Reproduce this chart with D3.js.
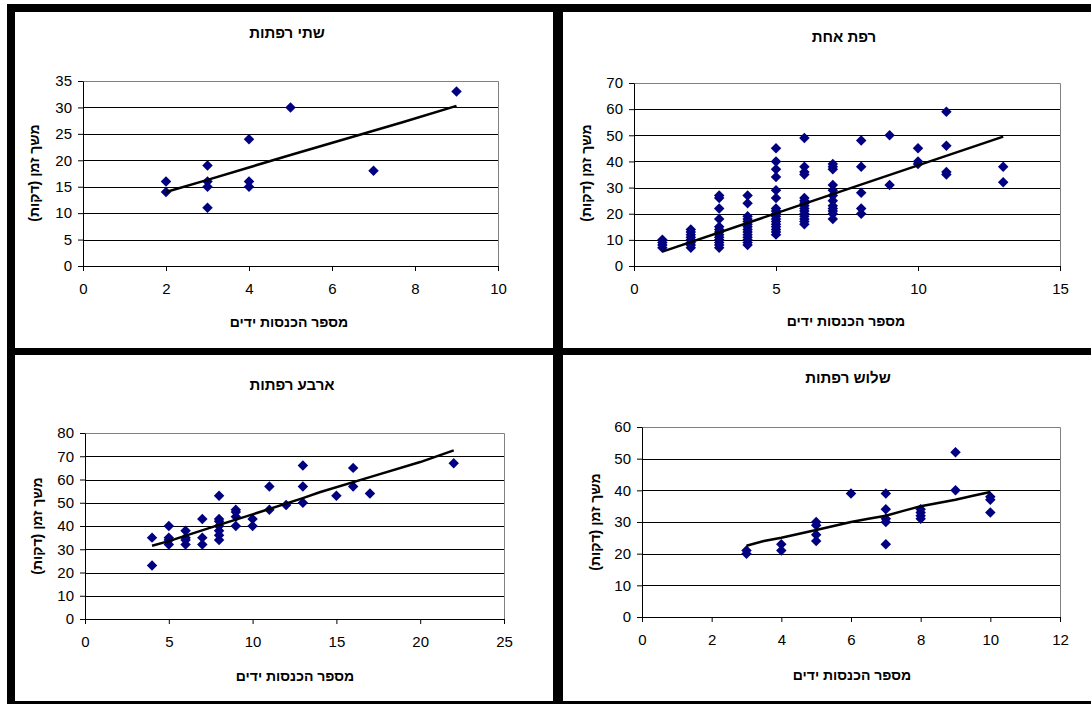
<!DOCTYPE html>
<html>
<head>
<meta charset="utf-8">
<script src="https://cdn.jsdelivr.net/npm/d3@7"></script>
<style>
  body { margin: 0; background: #fff; }
  svg { display: block; font-family: "Liberation Sans", Arial, sans-serif; }
</style>
</head>
<body>
<div id="chart"></div>
<script>
// data: [x, [y values at that x]]
var twoBarns = [[2, [16, 14]], [3, [19, 16, 15, 11]], [4, [24, 16, 15]], [5, [30]], [7, [18]], [9, [33]]];
var twoTrend = [[2, 14], [3, 16.3], [5, 21], [7.7, 27.2], [9, 30.3]];

var oneBarn = [
  [1, [10, 9, 8, 7]],
  [2, [14, 13, 12, 11, 10, 9, 8, 7]],
  [3, [27, 26, 22, 18, 15, 14, 13, 12, 11, 10, 9, 8, 7]],
  [4, [27, 24, 19, 18, 17, 16, 15, 14, 13, 12, 11, 10, 9, 8]],
  [5, [45, 40, 37, 34, 29, 26, 22, 21, 20, 19, 18, 17, 16, 15, 14, 13, 12]],
  [6, [49, 38, 36, 35, 26, 25, 24, 23, 22, 21, 20, 19, 18, 17, 16]],
  [7, [39, 38, 37, 31, 29, 27, 25, 23, 22, 21, 20, 18]],
  [8, [48, 38, 28, 22, 20]],
  [9, [50, 31]],
  [10, [45, 40, 39]],
  [11, [59, 46, 36, 35]],
  [13, [38, 32]]
];
var oneTrend = [[1, 5.5], [13, 49.5]];

var fourBarns = [[4, [35, 23]], [5, [40, 35, 34, 32]], [6, [38, 35, 34, 32]], [7, [43, 35, 32]],
  [8, [53, 43, 42, 40, 38, 36, 34]], [9, [47, 46, 44, 40]], [10, [43, 40]], [11, [57, 47]], [12, [49]],
  [13, [66, 57, 50]], [15, [53]], [16, [65, 57]], [17, [54]], [22, [67]]];
var fourTrend = [[4, 31.5], [5, 33.5], [8, 40.5], [10, 45], [13, 52], [14, 54.5], [17, 61], [20, 67.5], [22, 72.5]];

var threeBarns = [[3, [21, 20]], [4, [23, 21]], [5, [30, 29, 26, 24]], [6, [39]], [7, [39, 34, 31, 30, 23]],
  [8, [34, 33, 32, 31]], [9, [52, 40]], [10, [38, 37, 33]]];
var threeTrend = [[3, 22.5], [3.5, 24], [4, 25], [5, 27.5], [6, 30], [6.5, 31], [7, 32], [7.5, 33.5], [8, 35], [9, 37], [9.5, 38.3], [10, 39.5]];

var titles = ["שתי רפתות", "רפת אחת", "ארבע רפתות", "שלוש רפתות"];
var xTitle = "מספר הכנסות ידים";
var yTitle = "משך זמן (דקות)";

// layout of the four charts
var panels = [
  {data: twoBarns, trend: twoTrend, title: titles[0], xMax: 10, xStep: 2, yMax: 35, yStep: 5,
   l: 83, r: 498, t: 81, b: 266, tx: 287, ty: 32, xlx: 289, xly: 322, ylx: 34, yly: 173},
  {data: oneBarn, trend: oneTrend, title: titles[1], xMax: 15, xStep: 5, yMax: 70, yStep: 10,
   l: 634, r: 1060, t: 83, b: 266, tx: 844, ty: 36, xlx: 846, xly: 321, ylx: 586, yly: 173},
  {data: fourBarns, trend: fourTrend, title: titles[2], xMax: 25, xStep: 5, yMax: 80, yStep: 10,
   l: 85, r: 504, t: 433, b: 619, tx: 292, ty: 384, xlx: 295, xly: 676, ylx: 37, yly: 526},
  {data: threeBarns, trend: threeTrend, title: titles[3], xMax: 12, xStep: 2, yMax: 60, yStep: 10,
   l: 642, r: 1060, t: 427, b: 617, tx: 848, ty: 377, xlx: 852, xly: 675, ylx: 595, yly: 522}
];

var W = 1091, H = 704;
var svg = d3.select("#chart").append("svg").attr("width", W).attr("height", H);
svg.append("rect").attr("width", W).attr("height", H).attr("fill", "#fff");

var diamond = d3.symbol().type(d3.symbolDiamond2).size(70);
var line = d3.line();

panels.forEach(function(p) {
  var x = d3.scaleLinear().domain([0, p.xMax]).range([p.l, p.r]);
  var y = d3.scaleLinear().domain([0, p.yMax]).range([p.b, p.t]);
  var g = svg.append("g");

  // gridlines
  g.selectAll(".grid").data(d3.range(p.yStep, p.yMax, p.yStep)).enter().append("line")
    .attr("x1", p.l).attr("x2", p.r)
    .attr("y1", function(d) { return Math.round(y(d)) + 0.5; })
    .attr("y2", function(d) { return Math.round(y(d)) + 0.5; })
    .attr("stroke", "#000").attr("stroke-width", 1);

  // plot area frame (top and right gray)
  g.append("path")
    .attr("d", "M" + p.l + "," + (Math.round(p.t) + 0.5) + "H" + (Math.round(p.r) + 0.5) + "V" + p.b)
    .attr("fill", "none").attr("stroke", "#808080");

  var xAxis = g.append("g").attr("transform", "translate(0," + Math.round(p.b) + ")")
    .call(d3.axisBottom(x).tickValues(d3.range(0, p.xMax + 0.001, p.xStep)).tickSize(5).tickPadding(12).tickSizeOuter(0));
  var yAxis = g.append("g").attr("transform", "translate(" + Math.round(p.l) + ",0)")
    .call(d3.axisLeft(y).tickValues(d3.range(0, p.yMax + 0.001, p.yStep)).tickSize(5).tickPadding(6).tickSizeOuter(0));
  [xAxis, yAxis].forEach(function(a) {
    a.selectAll("text").style("font-size", "15px").attr("fill", "#000")
      .style("font-family", "'Liberation Sans', Arial, sans-serif");
    a.selectAll("line,path").attr("stroke", "#000");
  });

  // points
  var pts = [];
  p.data.forEach(function(c) { c[1].forEach(function(v) { pts.push([c[0], v]); }); });
  g.selectAll(".pt").data(pts).enter().append("path")
    .attr("d", diamond)
    .attr("transform", function(d) { return "translate(" + x(d[0]) + "," + y(d[1]) + ")"; })
    .attr("fill", "#000080");

  // trend line
  g.append("path")
    .attr("d", line(p.trend.map(function(d) { return [x(d[0]), y(d[1])]; })))
    .attr("fill", "none").attr("stroke", "#000").attr("stroke-width", 2.5);

  // titles
  g.append("text").attr("x", p.tx).attr("y", p.ty).attr("text-anchor", "middle")
    .attr("dominant-baseline", "central").style("font-size", "15px").style("font-weight", "bold")
    .text(p.title);
  g.append("text").attr("x", p.xlx).attr("y", p.xly).attr("text-anchor", "middle")
    .attr("dominant-baseline", "central").style("font-size", "14px").style("font-weight", "bold")
    .text(xTitle);
  g.append("text").attr("transform", "translate(" + p.ylx + "," + p.yly + ") rotate(-90)")
    .attr("text-anchor", "middle").attr("dominant-baseline", "central")
    .style("font-size", "14px").style("font-weight", "bold")
    .text(yTitle);
});

// thick black frames around the pasted charts
var frames = [
  [7, 4, W - 7, 8],      // top
  [7, 4, 8, H - 4],      // left
  [553, 4, 10, H - 4],   // middle vertical
  [7, 348, W - 7, 7],    // middle horizontal
  [7, 701, W - 7, 3]     // bottom
];
svg.selectAll(".frame").data(frames).enter().append("rect")
  .attr("x", function(d) { return d[0]; }).attr("y", function(d) { return d[1]; })
  .attr("width", function(d) { return d[2]; }).attr("height", function(d) { return d[3]; })
  .attr("fill", "#000");
</script>
</body>
</html>
